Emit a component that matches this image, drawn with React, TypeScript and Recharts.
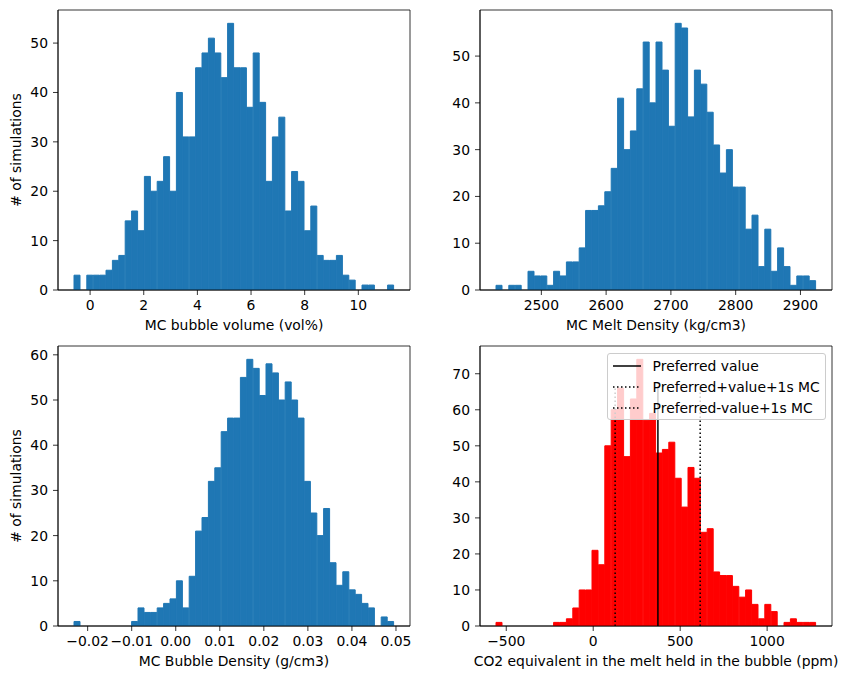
import type { ReactNode } from "react";
import { Bar, BarChart, CartesianGrid, Label, Legend, ReferenceLine, XAxis, YAxis } from "recharts";

const FONT = '"DejaVu Sans", sans-serif';
const FONT_SIZE = 13.9;
const BLUE = "#1f77b4";
const RED = "#ff0000";

// Monte Carlo results, 50 bins each (counts per bin)
const volumeCounts = [
  3, 0, 3, 3, 3, 4, 6, 7, 14, 16, 12, 23, 20, 22, 27, 20, 40, 31, 31, 45, 48, 51, 48, 43, 54,
  45, 45, 37, 48, 38, 22, 31, 35, 16, 24, 22, 12, 17, 7, 6, 6, 7, 3, 2, 0, 1, 1, 0, 0, 1,
];
const meltDensityCounts = [
  1, 0, 1, 1, 0, 4, 3, 3, 1, 4, 3, 6, 6, 9, 17, 17, 18, 21, 26, 41, 30, 34, 43, 53, 40,
  53, 47, 35, 57, 56, 37, 47, 44, 38, 31, 25, 30, 22, 22, 13, 16, 5, 13, 4, 9, 5, 1, 3, 3, 2,
];
const bubbleDensityCounts = [
  1, 0, 0, 0, 0, 0, 0, 0, 0, 1, 4, 3, 3, 4, 5, 6, 10, 4, 11, 21, 24, 32, 35, 43, 46,
  46, 55, 59, 57, 51, 58, 56, 50, 54, 50, 46, 32, 25, 20, 26, 14, 9, 12, 8, 7, 5, 4, 0, 2, 1,
];
const co2Counts = [
  1, 0, 0, 0, 0, 0, 0, 0, 0, 1, 1, 2, 5, 10, 10, 21, 17, 50, 60, 66, 47, 63, 74, 57, 59,
  48, 49, 51, 41, 33, 44, 41, 26, 27, 15, 14, 14, 11, 8, 10, 6, 2, 6, 4, 0, 1, 2, 1, 1, 1,
];

interface BinSpec {
  start: number;
  width: number;
}

const volumeBins: BinSpec = { start: -0.6, width: 0.2386 };
const meltDensityBins: BinSpec = { start: 2430, width: 9.88 };
const bubbleDensityBins: BinSpec = { start: -0.0231, width: 0.001453 };
const co2Bins: BinSpec = { start: -559, width: 36.8 };

const volumeTicks = [0, 2, 4, 6, 8, 10];
const meltDensityTicks = [2500, 2600, 2700, 2800, 2900];
const bubbleDensityTicks = [-0.02, -0.01, 0, 0.01, 0.02, 0.03, 0.04, 0.05];
const co2Ticks = [-500, 0, 500, 1000];

const countTicks50 = [0, 10, 20, 30, 40, 50];
const countTicks60 = [0, 10, 20, 30, 40, 50, 60];
const countTicks70 = [0, 10, 20, 30, 40, 50, 60, 70];

// CO2 reference values (ppm); lines stop at co2LineTop simulations
const co2Preferred = 372;
const co2PlusSigma = 615;
const co2MinusSigma = 126;
const co2LineTop = 66.5;

const co2Lines = [
  { label: "Preferred value", value: co2Preferred, dash: undefined as string | undefined },
  { label: "Preferred+value+1s MC", value: co2PlusSigma, dash: "1.5 2.5" },
  { label: "Preferred-value+1s MC", value: co2MinusSigma, dash: "1.5 2.5" },
];

const PANEL_W = 421;
const PLOT_W = 352;
const PLOT_H = 280;

const minus = (s: string) => s.replace("-", "\u2212");

const frameLine = { stroke: "#000", strokeWidth: 0.8 };
const tickStyle = { fill: "#000", fontSize: FONT_SIZE, fontFamily: FONT };

// box around the plot area, built from the chart offset
const frameRows = ({ offset }: any) => [offset.top, offset.top + offset.height];
const frameCols = ({ offset }: any) => [offset.left, offset.left + offset.width];

interface HistogramProps {
  counts: number[];
  bins: BinSpec;
  xTicks: number[];
  yTicks: number[];
  color: string;
  xLabel: string;
  yLabel?: string;
  formatX?: (v: number) => string;
  left: number;
  top: number;
  height: number;
  plotLeft: number;
  plotTop: number;
  children?: ReactNode;
}

function Histogram({
  counts,
  bins,
  xTicks,
  yTicks,
  color,
  xLabel,
  yLabel,
  formatX = (v) => minus(String(v)),
  left,
  top,
  height,
  plotLeft,
  plotTop,
  children,
}: HistogramProps) {
  const data = counts.map((count, i) => ({ x: bins.start + bins.width * (i + 0.5), count }));
  // matplotlib-style 5% margins around the bin edges
  const span = bins.width * counts.length;
  const xDomain: [number, number] = [bins.start - 0.05 * span, bins.start + span + 0.05 * span];
  const yMax = Math.max(...counts) * 1.05;

  return (
    <div style={{ position: "absolute", left, top, width: PANEL_W, height }}>
      <BarChart
        width={PANEL_W}
        height={height}
        data={data}
        barCategoryGap={0}
        barGap={0}
        margin={{ top: plotTop, right: PANEL_W - plotLeft - PLOT_W, bottom: 0, left: 0 }}
      >
        <CartesianGrid
          stroke='#000'
          strokeWidth={0.8}
          fill='none'
          horizontalCoordinatesGenerator={frameRows}
          verticalCoordinatesGenerator={frameCols}
        />
        <XAxis
          dataKey='x'
          type='number'
          domain={xDomain}
          allowDataOverflow
          ticks={xTicks}
          interval={0}
          tickFormatter={formatX}
          tick={tickStyle}
          tickSize={5}
          tickMargin={5.6}
          tickLine={frameLine}
          axisLine={frameLine}
          height={height - plotTop - PLOT_H}
        >
          <Label
            content={(props: any) => {
              const vb = props.viewBox;
              return (
                <text x={vb.x + vb.width / 2} y={vb.y + 40} textAnchor='middle' fontSize={FONT_SIZE} fontFamily={FONT} fill='#000'>
                  {xLabel}
                </text>
              );
            }}
          />
        </XAxis>
        <YAxis
          type='number'
          domain={[0, yMax]}
          allowDataOverflow
          ticks={yTicks}
          interval={0}
          tick={tickStyle}
          tickSize={5}
          tickMargin={5}
          tickLine={frameLine}
          axisLine={frameLine}
          width={plotLeft}
        >
          {yLabel && (
            <Label
              content={(props: any) => {
                const vb = props.viewBox;
                const cx = vb.x + 21;
                const cy = vb.y + vb.height / 2;
                return (
                  <text
                    x={cx}
                    y={cy}
                    transform={`rotate(-90, ${cx}, ${cy})`}
                    textAnchor='middle'
                    fontSize={FONT_SIZE}
                    fontFamily={FONT}
                    fill='#000'
                  >
                    {yLabel}
                  </text>
                );
              }}
            />
          )}
        </YAxis>
        <Bar dataKey='count' fill={color} stroke={color} strokeWidth={1} isAnimationActive={false} />
        {children}
      </BarChart>
    </div>
  );
}

const renderCo2Legend = () => (
  <div
    style={{
      width: 219,
      boxSizing: "border-box",
      background: "rgba(255,255,255,0.8)",
      border: "1px solid #cccccc",
      borderRadius: 3,
      padding: "1px 0",
      fontSize: FONT_SIZE,
      fontFamily: FONT,
      color: "#000",
    }}
  >
    {co2Lines.map((l) => (
      <div key={l.label} style={{ display: "flex", alignItems: "center", height: 21, paddingLeft: 5, whiteSpace: "nowrap" }}>
        <svg width={28} height={4} style={{ marginRight: 11.6, flex: "none" }}>
          <line x1={0} y1={2} x2={28} y2={2} stroke='#000' strokeWidth={1.5} strokeDasharray={l.dash} />
        </svg>
        <span>{l.label}</span>
      </div>
    ))}
  </div>
);

export default function App() {
  return (
    <div style={{ position: "absolute", left: 0, top: 0, width: 842, height: 679, background: "#fff", fontFamily: FONT }}>
      <Histogram
        counts={volumeCounts}
        bins={volumeBins}
        xTicks={volumeTicks}
        yTicks={countTicks50}
        color={BLUE}
        xLabel='MC bubble volume (vol%)'
        yLabel='# of simulations'
        left={0}
        top={0}
        height={340}
        plotLeft={58}
        plotTop={10}
      />
      <Histogram
        counts={meltDensityCounts}
        bins={meltDensityBins}
        xTicks={meltDensityTicks}
        yTicks={countTicks50}
        color={BLUE}
        xLabel='MC Melt Density (kg/cm3)'
        left={PANEL_W}
        top={0}
        height={340}
        plotLeft={59}
        plotTop={10}
      />
      <Histogram
        counts={bubbleDensityCounts}
        bins={bubbleDensityBins}
        xTicks={bubbleDensityTicks}
        yTicks={countTicks60}
        color={BLUE}
        xLabel='MC Bubble Density (g/cm3)'
        yLabel='# of simulations'
        formatX={(v) => minus(v.toFixed(2))}
        left={0}
        top={340}
        height={339}
        plotLeft={58}
        plotTop={6}
      />
      <Histogram
        counts={co2Counts}
        bins={co2Bins}
        xTicks={co2Ticks}
        yTicks={countTicks70}
        color={RED}
        xLabel='CO2 equivalent in the melt held in the bubble (ppm)'
        left={PANEL_W}
        top={340}
        height={339}
        plotLeft={59}
        plotTop={6}
      >
        {co2Lines.map((l) => (
          <ReferenceLine
            key={l.label}
            segment={[
              { x: l.value, y: 0 },
              { x: l.value, y: co2LineTop },
            ]}
            stroke='#000'
            strokeWidth={1.5}
            strokeDasharray={l.dash}
          />
        ))}
        <Legend
          layout='horizontal'
          verticalAlign='middle'
          align='center'
          content={renderCo2Legend}
          wrapperStyle={{ left: 186, top: 13, width: "auto", height: "auto" }}
        />
      </Histogram>
    </div>
  );
}
